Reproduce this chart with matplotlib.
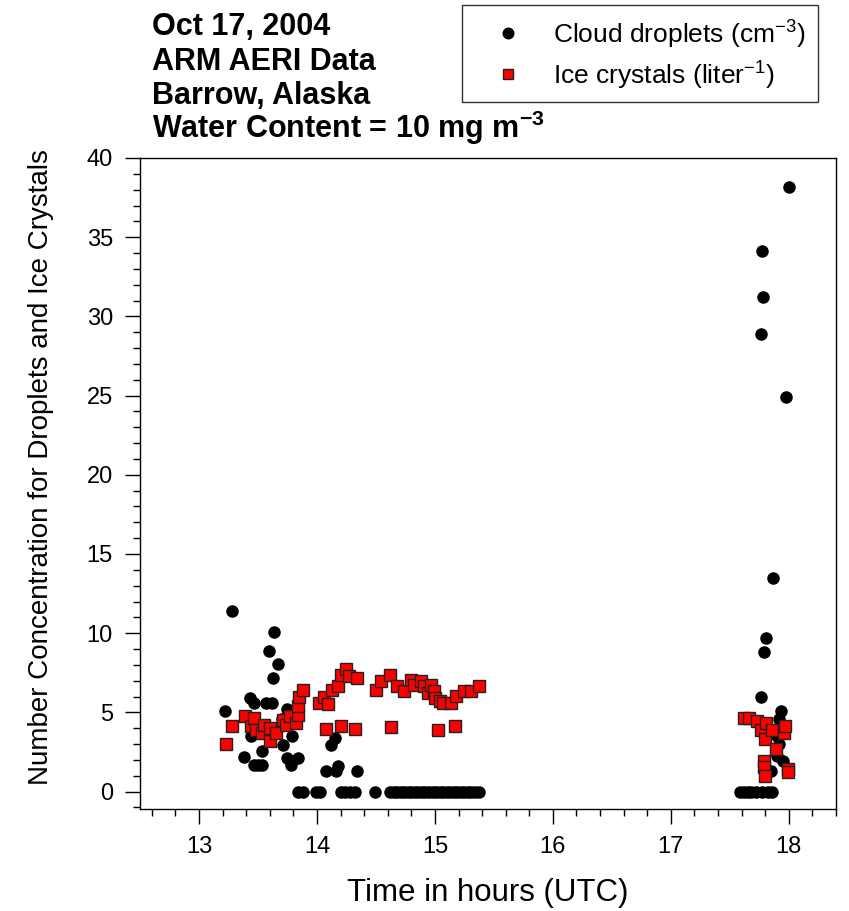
import matplotlib
matplotlib.use("Agg")
import matplotlib.pyplot as plt
from matplotlib.ticker import MultipleLocator

plt.rcParams['font.family'] = ['Liberation Sans', 'DejaVu Sans']

# Cloud droplets (cm^-3)
drop_x = [13.22, 13.28, 13.38, 13.43, 13.44, 13.45, 13.47, 13.47, 13.50, 13.53,
          13.53, 13.57, 13.59, 13.62, 13.63, 13.64, 13.67, 13.62, 13.71, 13.70,
          13.75, 13.75, 13.78, 13.79, 13.80, 13.84,
          13.84, 13.88, 13.99, 14.03, 14.20, 14.24, 14.28, 14.32, 14.49,
          14.62, 14.65, 14.68, 14.71, 14.74, 14.77, 14.80, 14.83, 14.86, 14.89,
          14.92, 14.95, 14.98, 15.01, 15.04, 15.07, 15.10, 15.13, 15.16, 15.19,
          15.22, 15.25, 15.28, 15.31, 15.34, 15.37,
          14.08, 14.12, 14.15, 14.16, 14.18, 14.34,
          17.59, 17.62, 17.65, 17.68, 17.72, 17.77, 17.82, 17.86,
          17.76, 17.76, 17.77, 17.78, 17.79, 17.81, 17.87, 17.98, 18.00,
          17.93, 17.92, 17.95, 17.90, 17.92, 17.90, 17.95, 17.85]
drop_y = [5.1, 11.4, 2.17, 5.9, 3.5, 4.5, 5.6, 1.7, 1.7, 1.7,
          2.55, 5.6, 8.85, 5.6, 7.17, 10.1, 8.06, 3.8, 2.97, 4.6,
          5.2, 2.15, 1.7, 3.5, 4.4, 2.15,
          0, 0, 0, 0, 0, 0, 0, 0, 0,
          0, 0, 0, 0, 0, 0, 0, 0, 0, 0,
          0, 0, 0, 0, 0, 0, 0, 0, 0, 0,
          0, 0, 0, 0, 0, 0,
          1.33, 2.97, 3.39, 1.28, 1.64, 1.33,
          0, 0, 0, 0, 0, 0, 0, 0,
          5.97, 28.9, 34.1, 31.2, 8.8, 9.7, 13.5, 24.9, 38.2,
          5.07, 4.6, 4.12, 3.5, 3.0, 2.23, 1.91, 1.28]

# Ice crystals (liter^-1)
ice_x = [13.23, 13.28, 13.39, 13.44, 13.47, 13.48, 13.53, 13.55, 13.60, 13.60,
         13.65, 13.71, 13.74, 13.77, 13.82, 13.84, 13.84, 13.85, 13.88,
         14.02, 14.06, 14.09, 14.08, 14.13, 14.18, 14.20, 14.20, 14.25, 14.27,
         14.32, 14.34, 14.50, 14.54, 14.62, 14.63, 14.68, 14.74, 14.80, 14.82,
         14.88, 14.91, 14.94, 14.97, 14.99, 15.00, 15.03, 15.04, 15.07, 15.14,
         15.17, 15.18, 15.25, 15.31, 15.37,
         17.62, 17.66, 17.73, 17.76, 17.80, 17.81, 17.86, 17.89, 17.96, 17.97,
         17.79, 17.79, 17.80, 17.99, 17.99]
ice_y = [3.03, 4.12, 4.8, 4.12, 4.67, 3.91, 3.7, 4.23, 4.02, 3.17,
         3.7, 4.54, 4.23, 4.75, 4.33, 4.86, 5.43, 6.0, 6.4,
         5.6, 6.0, 5.5, 3.95, 6.43, 6.65, 7.38, 4.16, 7.74, 7.27,
         3.95, 7.17, 6.43, 6.96, 7.38, 4.08, 6.65, 6.33, 7.07, 6.75,
         6.96, 6.65, 6.23, 6.75, 6.33, 5.91, 3.87, 5.7, 5.59, 5.59,
         4.12, 6.01, 6.33, 6.33, 6.65,
         4.65, 4.65, 4.44, 3.91, 3.31, 4.33, 3.91, 2.69, 3.7, 4.12,
         1.91, 1.56, 1.01, 1.43, 1.22]

title_lines = ["Oct 17, 2004", "ARM AERI Data", "Barrow, Alaska",
               "Water Content = 10 mg m$^{\\mathregular{-3}}$"]

W, H = 849, 911
fig = plt.figure(figsize=(W / 100, H / 100), dpi=100)
ax = fig.add_axes([140 / W, 1 - 809 / H, (836 - 140) / W, (809 - 158) / H])

ax.plot(drop_x, drop_y, linestyle='none', marker='o', markersize=8,
        color='black', markeredgecolor='black',
        label='Cloud droplets (cm$^{\\mathregular{-3}}$)')
ax.plot(ice_x, ice_y, linestyle='none', marker='s', markersize=8,
        markerfacecolor='#ff0000', markeredgecolor='#222222', markeredgewidth=1.0,
        label='Ice crystals (liter$^{\\mathregular{-1}}$)')

ax.set_xlim(12.5, 18.4)
ax.set_ylim(-1.1, 40)
ax.xaxis.set_major_locator(MultipleLocator(1))
ax.xaxis.set_minor_locator(MultipleLocator(0.2))
ax.yaxis.set_major_locator(MultipleLocator(5))
ax.yaxis.set_minor_locator(MultipleLocator(1))
ax.tick_params(axis='both', which='major', direction='out', length=10.5, width=1.0,
               labelsize=17)
ax.tick_params(axis='x', which='major', pad=9)
ax.tick_params(axis='y', which='major', pad=9)
ax.tick_params(axis='both', which='minor', direction='out', length=5, width=1.0)
for s in ax.spines.values():
    s.set_linewidth(1.0)

ax.set_xlabel('Time in hours (UTC)', fontsize=22.5, labelpad=14)
ax.set_ylabel('Number Concentration for Droplets and Ice Crystals', fontsize=20)
ax.yaxis.set_label_coords(-0.1236, 0.525)

ys = [35, 70, 104, 138]
for t, yb in zip(title_lines, ys):
    fig.text(152 / W, 1 - yb / H, t, fontsize=22, fontweight='bold',
             ha='left', va='baseline')

leg = fig.legend(loc='upper left', bbox_to_anchor=(462 / W, 1 - 5 / H),
                 fontsize=19, frameon=True, fancybox=False, edgecolor='black',
                 handletextpad=0.4, borderpad=0.45, handlelength=2.6,
                 borderaxespad=0, labelspacing=0.3, markerscale=0.95)
leg.get_frame().set_linewidth(1.0)

fig.savefig('out.png', dpi=100)
